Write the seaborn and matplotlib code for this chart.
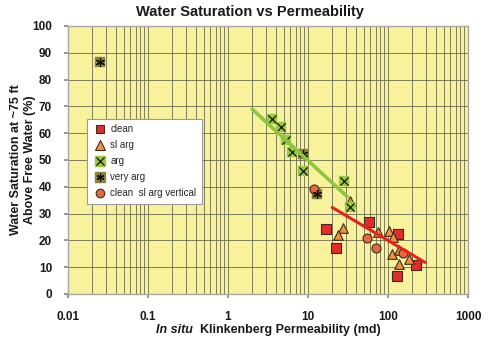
import matplotlib
matplotlib.use("Agg")
import matplotlib.pyplot as plt
from matplotlib.lines import Line2D
from matplotlib.ticker import FixedLocator, LogLocator, NullFormatter, FixedFormatter
import seaborn as sns

# Permeability (md) and water saturation (%) by lithology class
clean_k = [16.9, 22.4, 58.4, 134.6, 224, 130.7]
clean_sw = [24.1, 17.0, 26.9, 22.3, 10.8, 6.6]

slarg_k = [27.6, 23.7, 75.7, 104, 116, 111, 136, 136, 185, 33.5]
slarg_sw = [24.5, 22.1, 23.0, 23.6, 21.4, 14.8, 16.4, 11.2, 12.9, 34.6]

arg_k = [3.52, 4.6, 5.3, 6.25, 8.7, 28.2, 33.5]
arg_sw = [65.2, 62.4, 57.5, 53.1, 46.0, 42.2, 32.3]

veryarg_k = [0.025, 8.6, 12.8]
veryarg_sw = [86.6, 52.1, 37.3]

vert_k = [11.9, 55.1, 70.8, 155]
vert_sw = [39.3, 20.8, 17.3, 15.2]

# Trend lines (end points)
arg_trend_k = [2.0, 31.0]
arg_trend_sw = [69.0, 36.3]
clean_trend_k = [20.1, 290.0]
clean_trend_sw = [32.3, 11.8]

x_ticks = [0.01, 0.1, 1, 10, 100, 1000]
x_tick_labels = ["0.01", "0.1", "1", "10", "100", "1000"]
y_ticks = list(range(0, 101, 10))

sns.set_theme(style="white")
plt.rcParams["font.family"] = ["Liberation Sans", "DejaVu Sans"]

W, H = 494, 340
fig = plt.figure(figsize=(W / 100, H / 100), dpi=100)
fig.patch.set_facecolor("white")
ax = fig.add_axes([68 / W, 46 / H, 400 / W, 268 / H])
ax.set_facecolor("#F7F29B")
ax.set_xscale("log")
ax.set_xlim(0.01, 1000)
ax.set_ylim(0, 100)

edge = "#3a2c20"
red = "#E32B2B"
orange = "#F2923A"
green = "#9BCB3C"
olive = "#86863C"
circ = "#E8663A"

sns.scatterplot(x=clean_k, y=clean_sw, marker="s", s=42, color=red,
                edgecolor=edge, linewidth=0.8, ax=ax, zorder=3)
sns.scatterplot(x=slarg_k, y=slarg_sw, marker="^", s=48, color=orange,
                edgecolor=edge, linewidth=0.8, ax=ax, zorder=3)
sns.scatterplot(x=arg_k, y=arg_sw, marker="s", s=60, color=green,
                edgecolor=green, linewidth=0.3, ax=ax, zorder=3)
sns.scatterplot(x=arg_k, y=arg_sw, marker="x", s=34, color="#111111",
                linewidth=0.9, ax=ax, zorder=3.1)
sns.scatterplot(x=veryarg_k, y=veryarg_sw, marker="s", s=60, color=olive,
                edgecolor=olive, linewidth=0.3, ax=ax, zorder=3)
sns.scatterplot(x=veryarg_k, y=veryarg_sw, marker=(6, 2, 0), s=34,
                color="#111111", linewidth=0.9, ax=ax, zorder=3.1)
sns.scatterplot(x=vert_k, y=vert_sw, marker="o", s=42, color=circ,
                edgecolor=edge, linewidth=0.8, ax=ax, zorder=3)

sns.lineplot(x=arg_trend_k, y=arg_trend_sw, color="#8DC63F", linewidth=2.6,
             ax=ax, zorder=4)
sns.lineplot(x=clean_trend_k, y=clean_trend_sw, color="#E8201E", linewidth=2.2,
             ax=ax, zorder=4)

# Grid and ticks
ax.xaxis.set_major_locator(FixedLocator(x_ticks))
ax.xaxis.set_major_formatter(FixedFormatter(x_tick_labels))
ax.xaxis.set_minor_locator(LogLocator(base=10, subs=range(2, 10)))
ax.xaxis.set_minor_formatter(NullFormatter())
ax.yaxis.set_major_locator(FixedLocator(y_ticks))
ax.grid(which="both", axis="x", color="#6a6a52", linewidth=0.6, zorder=1)
ax.grid(which="major", axis="y", color="#6a6a52", linewidth=0.6, zorder=1)
ax.set_axisbelow(True)
for sp in ax.spines.values():
    sp.set_color("#A8A8A8")
    sp.set_linewidth(1.0)
ax.tick_params(axis="x", which="major", bottom=True, length=3, color="#888888",
               pad=9.5, labelsize=8.5, labelcolor="#1a1a1a")
ax.tick_params(axis="x", which="minor", bottom=False)
ax.tick_params(axis="y", which="major", left=True, length=3, color="#888888",
               pad=8.5, labelsize=8.5, labelcolor="#1a1a1a")
for lbl in ax.get_xticklabels() + ax.get_yticklabels():
    lbl.set_fontweight("bold")
ax.set_xlabel("")
ax.set_ylabel("")

# Legend
handles = [
    Line2D([], [], ls="", marker="s", markersize=6.2, markerfacecolor=red,
           markeredgecolor=edge, markeredgewidth=0.8),
    Line2D([], [], ls="", marker="^", markersize=6.5, markerfacecolor=orange,
           markeredgecolor=edge, markeredgewidth=0.8),
    (Line2D([], [], ls="", marker="s", markersize=7, markerfacecolor=green,
            markeredgecolor=green),
     Line2D([], [], ls="", marker="x", markersize=5.5, markeredgecolor="#111111",
            markeredgewidth=0.9)),
    (Line2D([], [], ls="", marker="s", markersize=7, markerfacecolor=olive,
            markeredgecolor=olive),
     Line2D([], [], ls="", marker=(6, 2, 0), markersize=5.5,
            markeredgecolor="#111111", markeredgewidth=0.9)),
    Line2D([], [], ls="", marker="o", markersize=6.2, markerfacecolor=circ,
           markeredgecolor=edge, markeredgewidth=0.8),
]
labels = ["clean", "sl arg", "arg", "very arg", "clean  sl arg vertical"]
leg = ax.legend(handles, labels, loc="upper left",
                bbox_to_anchor=(19 / 400, (294 - 119) / 268),
                borderaxespad=0, frameon=True, fancybox=False,
                edgecolor="#9a9a9a", facecolor="white", framealpha=1,
                fontsize=7, handlelength=1.5, handletextpad=0.35,
                borderpad=0.55, labelspacing=0.62)
leg.get_frame().set_linewidth(0.8)
leg.set_zorder(5)

# Title and axis labels
fig.text(250 / W, 1 - 12 / H, "Water Saturation vs Permeability",
         ha="center", va="center", fontsize=10.5, fontweight="bold",
         color="#1a1a1a")
fig.text(23 / W, 1 - 160 / H, "Water Saturation at ~75 ft\nAbove Free Water (%)",
         ha="center", va="center", rotation=90, fontsize=9, fontweight="bold",
         linespacing=1.3, color="#1a1a1a")

fig.canvas.draw()
renderer = fig.canvas.get_renderer()
ylab = 1 - 330 / H
t1 = fig.text(0, ylab, "In situ", ha="left", va="center", fontsize=9,
              fontweight="bold", style="italic", color="#1a1a1a")
t2 = fig.text(0, ylab, "Klinkenberg Permeability (md)", ha="left", va="center",
              fontsize=9, fontweight="bold", color="#1a1a1a")
w1 = t1.get_window_extent(renderer).width
w2 = t2.get_window_extent(renderer).width
gap = 7
start = 268 - (w1 + gap + w2) / 2
t1.set_x(start / W)
t2.set_x((start + w1 + gap) / W)

fig.savefig("out.png", dpi=100, facecolor="white")
